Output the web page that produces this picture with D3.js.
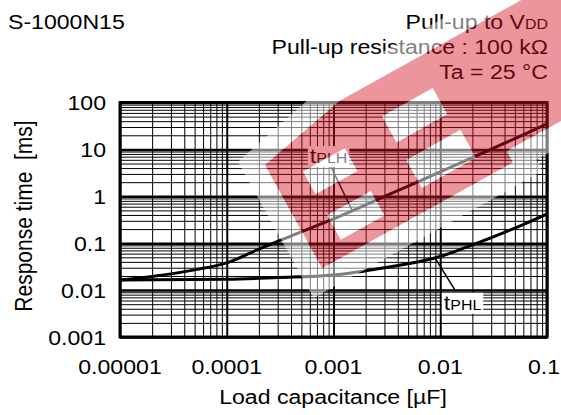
<!DOCTYPE html>
<html><head><meta charset="utf-8">
<script src="https://cdn.jsdelivr.net/npm/d3@7"></script>
<style>
body{margin:0;background:#fff}
svg{display:block}
text{font-family:"Liberation Sans",Arial,sans-serif;fill:#000;white-space:pre}
</style>
</head><body><svg id="c" width="561" height="415"></svg>
<script>
// ---- data ----
const xTickValues = [1e-5, 1e-4, 1e-3, 1e-2, 1e-1];
const xTickLabels = ["0.00001", "0.0001", "0.001", "0.01", "0.1"];
const yTickValues = [0.001, 0.01, 0.1, 1, 10, 100];
const yTickLabels = ["0.001", "0.01", "0.1", "1", "10", "100"];

const capPLH = [1e-5, 2e-5, 5e-5, 1e-4, 2e-4, 5e-4, 1e-3, 2e-3, 5e-3, 1e-2, 2e-2, 5e-2, 1e-1];
const tPLH   = [0.0165, 0.0195, 0.027, 0.038, 0.075, 0.175, 0.33, 0.66, 1.65, 3.3, 6.7, 17, 35];

const capPHL = [1e-5, 1e-4, 3e-4, 1e-3, 3e-3, 1e-2, 2e-2, 5e-2, 1e-1];
const tPHL   = [0.0165, 0.017, 0.0185, 0.021, 0.03, 0.052, 0.092, 0.21, 0.42];

// annotation anchors (data space)
const annPLH = {sub: "PLH", text: [6.0e-4, 5.1], from: [9.3e-4, 4.6], toCap: 1.5e-3};
const annPHL = {sub: "PHL", text: [1.08e-2, 0.0038], fromCap: 8.9e-3, to: [1.37e-2, 0.0101]};

// ---- layout ----
const svg = d3.select("#c");
const L = 120, R = 547, T = 102.5, B = 337;
const x = d3.scaleLog().domain([1e-5, 0.1]).range([L, R]);
const y = d3.scaleLog().domain([0.001, 100]).range([B, T]);
const SX = 1.1; // horizontal text stretch
const FS = 21;

function txt(g, px, py, str, opts = {}) {
  return g.append("text")
    .attr("transform", `translate(${px},${py}) scale(${SX},1)` + (opts.rot ? ` rotate(${opts.rot})` : ""))
    .attr("font-size", opts.fs || FS)
    .attr("text-anchor", opts.anchor || "start")
    .text(str);
}

// minor / major values
const minorX = [], minorY = [];
for (let d = 1e-5; d < 0.1 * 0.999; d *= 10) for (let k = 2; k <= 9; k++) minorX.push(k * d);
for (let d = 0.001; d < 100 * 0.999; d *= 10) for (let k = 2; k <= 9; k++) minorY.push(k * d);

const grid = svg.append("g");
function gridAxis(axis, tr, w) {
  grid.append("g").attr("transform", tr).call(axis)
    .call(g => g.select(".domain").remove())
    .call(g => g.selectAll("line").attr("stroke", "#000").attr("stroke-width", w));
}
gridAxis(d3.axisBottom(x).tickValues(minorX).tickSize(-(B - T)).tickFormat(""), `translate(0,${B})`, 1);
gridAxis(d3.axisLeft(y).tickValues(minorY).tickSize(-(R - L)).tickFormat(""), `translate(${L},0)`, 1);
gridAxis(d3.axisBottom(x).tickValues(xTickValues).tickSize(-(B - T)).tickFormat(""), `translate(0,${B})`, 2);
gridAxis(d3.axisLeft(y).tickValues(yTickValues).tickSize(-(R - L)).tickFormat(""), `translate(${L},0)`, 2.5);

// frame
svg.append("rect").attr("x", L).attr("y", T).attr("width", R - L).attr("height", B - T)
  .attr("fill", "none").attr("stroke", "#000").attr("stroke-width", 3);

// curves
const line = d3.line().x(d => x(d[0])).y(d => y(d[1])).curve(d3.curveMonotoneX);
svg.append("path").datum(capPLH.map((c, i) => [c, tPLH[i]]))
  .attr("d", line).attr("fill", "none").attr("stroke", "#000").attr("stroke-width", 3);
svg.append("path").datum(capPHL.map((c, i) => [c, tPHL[i]]))
  .attr("d", line).attr("fill", "none").attr("stroke", "#000").attr("stroke-width", 3);

function onCurve(caps, vals, c) {
  for (let i = 0; i < caps.length - 1; i++) {
    if (c >= caps[i] && c <= caps[i + 1]) {
      const f = (Math.log(c) - Math.log(caps[i])) / (Math.log(caps[i + 1]) - Math.log(caps[i]));
      return Math.exp(Math.log(vals[i]) + f * (Math.log(vals[i + 1]) - Math.log(vals[i])));
    }
  }
  return vals[vals.length - 1];
}

// annotations
const ann = svg.append("g");
function label(a, p1, p2) {
  ann.append("line")
    .attr("x1", x(p1[0])).attr("y1", y(p1[1]))
    .attr("x2", x(p2[0])).attr("y2", y(p2[1]))
    .attr("stroke", "#000").attr("stroke-width", 1.5);
  const tx = x(a.text[0]), ty = y(a.text[1]);
  const t = ann.append("text").attr("transform", `translate(${tx},${ty}) scale(${SX},1)`)
    .attr("font-size", FS);
  t.append("tspan").text("t");
  t.append("tspan").attr("font-size", 14.5).text(a.sub);
  const bb = t.node().getBBox();
  ann.insert("rect", "text")
    .attr("x", tx - 2).attr("y", ty - 17)
    .attr("width", bb.width * SX + 4).attr("height", 21)
    .attr("fill", "#fff");
}
label(annPLH, annPLH.from, [annPLH.toCap, onCurve(capPLH, tPLH, annPLH.toCap)]);
label(annPHL, [annPHL.fromCap, onCurve(capPHL, tPHL, annPHL.fromCap)], annPHL.to);

// tick labels
const tl = svg.append("g");
xTickValues.forEach((v, i) => {
  const last = i === xTickValues.length - 1;
  txt(tl, last ? 560 : x(v), 374, xTickLabels[i], {anchor: last ? "end" : "middle"});
});
yTickValues.forEach((v, i) => txt(tl, 106, y(v) + 7.5, yTickLabels[i], {anchor: "end"}));

// axis titles
txt(svg, 333, 404, "Load capacitance [\u00B5F]", {anchor: "middle"});
txt(svg, 32, 216, "Response time  [ms]", {anchor: "middle", rot: -90});

// header texts
txt(svg, 8, 29, "S-1000N15");
const h1 = svg.append("text").attr("transform", `translate(548,29) scale(${SX},1)`)
  .attr("font-size", FS).attr("text-anchor", "end");
h1.append("tspan").text("Pull-up to V");
h1.append("tspan").attr("font-size", 14.5).text("DD");
txt(svg, 548, 54, "Pull-up resistance : 100 k\u03A9", {anchor: "end"});
txt(svg, 548, 79, "Ta = 25 \u00B0C", {anchor: "end"});

// watermark (decorative overlay), local frame rotated -29deg about its left corner
const wm = svg.append("g").attr("transform", "translate(265,165) rotate(-29)");
const wmShape = [[0, 0], [97, -20], [370, -20], [370, 105], [218, 105], [218, 118], [0, 118]];
const haloShape = [[-22, -16], [95, -42], [392, -42], [392, 127], [240, 127], [240, 140], [-22, 140]];
const holes = [[30, 24, 48, 26], [30, 74, 50, 28], [126, 14, 58, 30], [126, 64, 62, 32]];
const poly = pts => d3.line()(pts) + "Z";
const rectPath = h => poly([[h[0], h[1]], [h[0] + h[2], h[1]], [h[0] + h[2], h[1] + h[3]], [h[0], h[1] + h[3]]]);
const holesD = holes.map(rectPath).join("");
wm.append("path").attr("d", poly(haloShape) + poly(wmShape) + holesD)
  .attr("fill-rule", "evenodd").attr("fill", "#fff").attr("opacity", 0.5);
wm.append("path").attr("d", poly(wmShape) + holesD)
  .attr("fill-rule", "evenodd").attr("fill", "rgb(212,20,36)").attr("opacity", 0.45);
</script>
</body></html>
